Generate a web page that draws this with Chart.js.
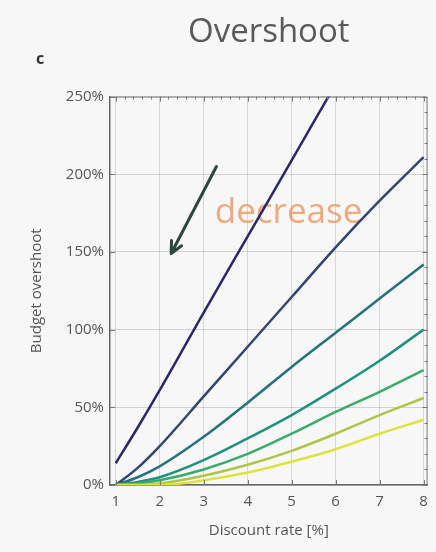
<!DOCTYPE html>
<html>
<head>
<meta charset="utf-8">
<script src="https://cdn.jsdelivr.net/npm/chart.js@4.4.0/dist/chart.umd.min.js"></script>
<style>
  html, body { margin: 0; padding: 0; background: #f7f7f7; }
</style>
</head>
<body>
<canvas id="overshootChart" width="436" height="552"></canvas>
<script>
// discount rate [%] sample points
const discount_rates = [1, 1.5, 2, 3, 4, 5, 6, 7, 8];

// budget overshoot [%] per curve, darkest (top) to lightest (bottom)
const overshoot_1 = [14, 37, 61, 111, 160, 209, 258, 307, 356];
const overshoot_2 = [0, 11, 25, 57, 89, 121, 153, 183, 211];
const overshoot_3 = [0, 5, 12, 31, 53, 76, 98, 120, 142];
const overshoot_4 = [0, 2, 5, 16, 30, 45, 62, 80, 100];
const overshoot_5 = [0, 1, 3, 10, 20, 33, 47, 60, 74];
const overshoot_6 = [0, 0, 1, 6, 13, 22, 33, 45, 56];
const overshoot_7 = [0, 0, 0, 3, 8, 15, 23, 33, 42];

const x_ticks = [1, 2, 3, 4, 5, 6, 7, 8];
const y_ticks = [0, 50, 100, 150, 200, 250];

const all_series = [overshoot_1, overshoot_2, overshoot_3, overshoot_4, overshoot_5, overshoot_6, overshoot_7];
const series_colors = ["#2a2868", "#33466f", "#28707b", "#20907f", "#3aab6c", "#aec44a", "#dde33e"];

Chart.defaults.font.family = "'Open Sans', sans-serif";
Chart.defaults.color = "#555555";

// arrow + "decrease" note + panel letter + frame ticks
const decorations = {
  id: "decorations",
  beforeDatasetsDraw(chart) {
    const { ctx, scales: { x, y } } = chart;
    ctx.save();
    ctx.font = "35px 'Open Sans', sans-serif";
    ctx.fillStyle = "rgba(234, 150, 95, 0.8)";
    ctx.textAlign = "center";
    ctx.textBaseline = "middle";
    ctx.fillText("decrease", x.getPixelForValue(4.93), y.getPixelForValue(175));
    ctx.restore();
  },
  afterDraw(chart) {
    const { ctx, chartArea: a, scales: { x, y } } = chart;
    ctx.save();

    // frame: top and right edges
    ctx.strokeStyle = "#777777";
    ctx.lineWidth = 1;
    ctx.beginPath();
    ctx.moveTo(a.left, a.top + 0.5);
    ctx.lineTo(a.right - 0.5, a.top + 0.5);
    ctx.lineTo(a.right - 0.5, a.bottom);
    ctx.stroke();

    // minor ticks on top edge, major ticks on bottom edge
    ctx.beginPath();
    for (let v = 1; v <= 8.001; v += 0.2) {
      const px = Math.round(x.getPixelForValue(v)) + 0.5;
      const major = Math.abs(v - Math.round(v)) < 0.01;
      ctx.moveTo(px, a.top);
      ctx.lineTo(px, a.top + (major ? 5 : 3));
      if (major) {
        ctx.moveTo(px, a.bottom);
        ctx.lineTo(px, a.bottom - 5);
      }
    }
    for (let v = 0; v <= 250; v += 10) {
      const py = Math.round(y.getPixelForValue(v)) + 0.5;
      const major = v % 50 === 0;
      ctx.moveTo(a.right, py);
      ctx.lineTo(a.right - (major ? 5 : 3), py);
      if (major) {
        ctx.moveTo(a.left, py);
        ctx.lineTo(a.left + 5, py);
      }
    }
    ctx.stroke();

    // arrow
    const x0 = x.getPixelForValue(3.29), y0 = y.getPixelForValue(205);
    const x1 = x.getPixelForValue(2.26), y1 = y.getPixelForValue(149);
    const ang = Math.atan2(y1 - y0, x1 - x0);
    ctx.strokeStyle = "#2e4640";
    ctx.lineWidth = 3;
    ctx.lineCap = "round";
    ctx.beginPath();
    ctx.moveTo(x0, y0);
    ctx.lineTo(x1, y1);
    ctx.moveTo(x1, y1);
    ctx.lineTo(x1 - 13 * Math.cos(ang - 0.45), y1 - 13 * Math.sin(ang - 0.45));
    ctx.moveTo(x1, y1);
    ctx.lineTo(x1 - 13 * Math.cos(ang + 0.45), y1 - 13 * Math.sin(ang + 0.45));
    ctx.stroke();

    // panel letter
    ctx.fillStyle = "#333333";
    ctx.font = "bold 16px 'Open Sans', sans-serif";
    ctx.textAlign = "center";
    ctx.textBaseline = "middle";
    ctx.fillText("c", 40, 59);
    ctx.restore();
  }
};

const ctx = document.getElementById("overshootChart");
new Chart(ctx, {
  type: "line",
  data: {
    datasets: all_series.map((vals, i) => ({
      label: "curve " + (i + 1),
      data: discount_rates.map((r, j) => ({ x: r, y: vals[j] })),
      borderColor: series_colors[i],
      backgroundColor: series_colors[i],
      borderWidth: 2.5,
      pointRadius: 0,
      cubicInterpolationMode: "monotone",
    })).reverse(),
  },
  options: {
    responsive: false,
    animation: false,
    layout: { padding: { top: 0, left: 24, right: 5, bottom: 8 } },
    plugins: {
      legend: { display: false },
      tooltip: { enabled: false },
      title: {
        display: true,
        text: "Overshoot",
        fullSize: false,
        color: "#5a5a5a",
        font: { size: 33, weight: "normal" },
        padding: { top: 13, bottom: 44 },
      },
    },
    scales: {
      x: {
        type: "linear",
        min: 0.87,
        max: 8.09,
        afterBuildTicks: (s) => { s.ticks = x_ticks.map((v) => ({ value: v })); },
        afterFit: (s) => { s.height = 59; },
        ticks: { font: { size: 15 }, padding: 8, color: "#555555" },
        grid: { color: "rgba(0,0,0,0.13)", drawTicks: false },
        border: { color: "#666666", width: 1.5 },
        title: { display: true, text: "Discount rate [%]", font: { size: 15 }, color: "#555555", padding: { top: 4, bottom: 4 } },
      },
      y: {
        min: 0,
        max: 250,
        afterBuildTicks: (s) => { s.ticks = y_ticks.map((v) => ({ value: v })); },
        afterFit: (s) => { s.width = 86; },
        ticks: { font: { size: 15 }, padding: 6, color: "#555555", callback: (v) => v + "%" },
        grid: { color: "rgba(0,0,0,0.15)", drawTicks: false },
        border: { color: "#666666", width: 1.5 },
        title: { display: true, text: "Budget overshoot", font: { size: 15 }, color: "#555555", padding: { top: 4, bottom: 4 } },
      },
    },
  },
  plugins: [decorations],
});
</script>
</body>
</html>
